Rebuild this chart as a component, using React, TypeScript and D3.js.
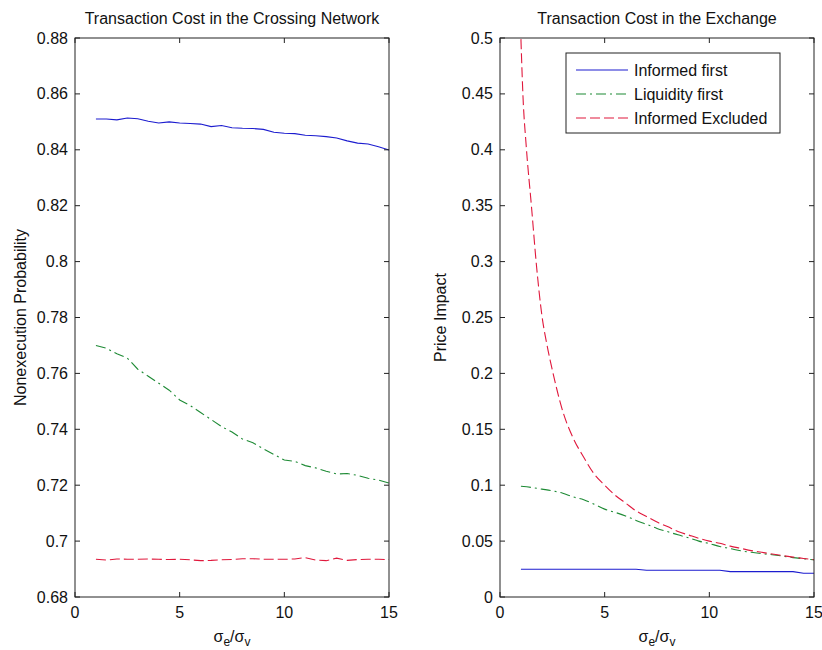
import React from "react";
import * as d3 from "d3";

// ---- data ----
const xGrid = [1, 1.5, 2, 2.5, 3, 3.5, 4, 4.5, 5, 5.5, 6, 6.5, 7, 7.5, 8, 8.5, 9, 9.5, 10, 10.5, 11, 11.5, 12, 12.5, 13, 13.5, 14, 14.5, 15];

const crossInformed = [0.8510, 0.8510, 0.8507, 0.8514, 0.8511, 0.8502, 0.8496, 0.8500, 0.8496, 0.8494, 0.8492, 0.8483, 0.8487, 0.8479, 0.8477, 0.8476, 0.8473, 0.8463, 0.8459, 0.8458, 0.8452, 0.8450, 0.8447, 0.8442, 0.8432, 0.8424, 0.8421, 0.8411, 0.8399];
const crossLiquidity = [0.7700, 0.7690, 0.7670, 0.7655, 0.7615, 0.7590, 0.7565, 0.7540, 0.7505, 0.7485, 0.7460, 0.7435, 0.7410, 0.7390, 0.7365, 0.7352, 0.7330, 0.7310, 0.7290, 0.7285, 0.7270, 0.7262, 0.7250, 0.7240, 0.7242, 0.7235, 0.7225, 0.7218, 0.7208];
const crossExcluded = [0.6935, 0.6932, 0.6936, 0.6935, 0.6935, 0.6936, 0.6935, 0.6934, 0.6935, 0.6933, 0.6930, 0.6931, 0.6933, 0.6934, 0.6937, 0.6937, 0.6935, 0.6935, 0.6935, 0.6936, 0.6941, 0.6932, 0.6930, 0.6939, 0.6931, 0.6934, 0.6935, 0.6935, 0.6934];

const exchInformed = [0.0248, 0.0248, 0.0248, 0.0248, 0.0248, 0.0248, 0.0248, 0.0248, 0.0248, 0.0248, 0.0248, 0.0248, 0.0239, 0.0239, 0.0239, 0.0239, 0.0239, 0.0239, 0.0239, 0.0239, 0.0227, 0.0227, 0.0227, 0.0227, 0.0227, 0.0227, 0.0227, 0.0212, 0.0212];
const exchLiquidity = [0.0990, 0.0980, 0.0965, 0.0950, 0.0928, 0.0895, 0.0870, 0.0830, 0.0786, 0.0757, 0.0725, 0.0685, 0.0650, 0.0613, 0.0585, 0.0556, 0.0530, 0.0500, 0.0478, 0.0452, 0.0433, 0.0413, 0.0400, 0.0388, 0.0378, 0.0366, 0.0352, 0.0342, 0.0332];
const xExcluded = [1, 1.1, 1.25, 1.5, 1.75, 2, 2.25, 2.5, 3, 3.5, 4, 4.5, 5, 5.5, 6, 6.5, 7, 7.5, 8, 8.5, 9, 9.5, 10, 10.5, 11, 11.5, 12, 12.5, 13, 13.5, 14, 14.5, 15];
const exchExcluded = [0.499, 0.447, 0.404, 0.350, 0.295, 0.252, 0.225, 0.203, 0.166, 0.142, 0.125, 0.110, 0.100, 0.091, 0.084, 0.077, 0.072, 0.067, 0.063, 0.0585, 0.0555, 0.0525, 0.050, 0.048, 0.0455, 0.0435, 0.0415, 0.040, 0.0385, 0.037, 0.0357, 0.0345, 0.0333];

const xTicks = [0, 5, 10, 15];
const yTicksLeft = [0.68, 0.7, 0.72, 0.74, 0.76, 0.78, 0.8, 0.82, 0.84, 0.86, 0.88];
const yTicksRight = [0, 0.05, 0.1, 0.15, 0.2, 0.25, 0.3, 0.35, 0.4, 0.45, 0.5];
const legendLabels = ["Informed first", "Liquidity first", "Informed Excluded"];

const FONT = "'Liberation Sans', Arial, sans-serif";
const BLUE = "#1c1ccf";
const GREEN = "#1d8a34";
const RED = "#e0183c";
const AXIS = "#222";

type Series = { xs: number[]; ys: number[]; color: string; dash?: string; smooth?: boolean };

function Panel(props: {
  left: number; right: number; top: number; bottom: number;
  yDomain: [number, number]; yTicks: number[]; title: string; ylabel: string;
  ylabelX: number; series: Series[]; legend?: boolean;
}) {
  const { left, right, top, bottom, yDomain, yTicks, title, ylabel, ylabelX, series, legend } = props;
  const x = d3.scaleLinear().domain([0, 15]).range([left, right]);
  const y = d3.scaleLinear().domain(yDomain).range([bottom, top]);
  const fmt = (v: number) => String(+v.toFixed(2));
  const tl = 5;
  const cx = (left + right) / 2;
  const cy = (top + bottom) / 2;
  return (
    <g fontFamily={FONT} fill="#111">
      {series.map((s, i) => {
        const line = d3.line<number>().x((_, j) => x(s.xs[j])).y((d) => y(d))
          .curve(s.smooth ? d3.curveMonotoneX : d3.curveLinear);
        return (
          <path key={i} d={line(s.ys) || ""} fill="none" stroke={s.color} strokeWidth={1.1}
            strokeDasharray={s.dash} />
        );
      })}
      <rect x={left} y={top} width={right - left} height={bottom - top} fill="none" stroke={AXIS} strokeWidth={1} />
      {xTicks.map((t) => (
        <g key={"x" + t}>
          <line x1={x(t)} x2={x(t)} y1={bottom} y2={bottom - tl} stroke={AXIS} />
          <line x1={x(t)} x2={x(t)} y1={top} y2={top + tl} stroke={AXIS} />
          <text x={x(t)} y={bottom + 21} fontSize={16} textAnchor="middle">{t}</text>
        </g>
      ))}
      {yTicks.map((t) => (
        <g key={"y" + t}>
          <line x1={left} x2={left + tl} y1={y(t)} y2={y(t)} stroke={AXIS} />
          <line x1={right} x2={right - tl} y1={y(t)} y2={y(t)} stroke={AXIS} />
          <text x={left - 7} y={y(t) + 5.5} fontSize={16} textAnchor="end">{fmt(t)}</text>
        </g>
      ))}
      <text x={cx} y={24} fontSize={16} textAnchor="middle">{title}</text>
      <text transform={`translate(${ylabelX},${cy}) rotate(-90)`} fontSize={16} textAnchor="middle">{ylabel}</text>
      <text x={cx} y={642} fontSize={16} textAnchor="middle">
        σ<tspan fontSize={12} dy={4}>e</tspan><tspan dy={-4}>/σ</tspan><tspan fontSize={12} dy={4}>v</tspan>
      </text>
      {legend && (
        <g>
          <rect x={566} y={53} width={214} height={80} fill="#fff" stroke={AXIS} />
          {series.map((s, i) => (
            <g key={"l" + i}>
              <line x1={576} x2={628} y1={70 + i * 24} y2={70 + i * 24} stroke={s.color} strokeWidth={1.1} strokeDasharray={s.dash} />
              <text x={634} y={76 + i * 24} fontSize={16}>{legendLabels[i]}</text>
            </g>
          ))}
        </g>
      )}
    </g>
  );
}

export default function App() {
  const DASH = "10,4";
  const DASHDOT = "10,4,2,4";
  return (
    <svg width={822} height={650} style={{ position: "absolute", left: 0, top: 0, background: "#fff" }}>
      <rect width={822} height={650} fill="#fff" />
      <Panel left={75} right={389} top={38} bottom={597} yDomain={[0.68, 0.88]} yTicks={yTicksLeft}
        title="Transaction Cost in the Crossing Network" ylabel="Nonexecution Probability" ylabelX={26}
        series={[
          { xs: xGrid, ys: crossInformed, color: BLUE },
          { xs: xGrid, ys: crossLiquidity, color: GREEN, dash: DASHDOT },
          { xs: xGrid, ys: crossExcluded, color: RED, dash: DASH },
        ]} />
      <Panel left={500} right={814} top={38} bottom={597} yDomain={[0, 0.5]} yTicks={yTicksRight}
        title="Transaction Cost in the Exchange" ylabel="Price Impact" ylabelX={446} legend
        series={[
          { xs: xGrid, ys: exchInformed, color: BLUE },
          { xs: xGrid, ys: exchLiquidity, color: GREEN, dash: DASHDOT, smooth: true },
          { xs: xExcluded, ys: exchExcluded, color: RED, dash: DASH, smooth: true },
        ]} />
    </svg>
  );
}
